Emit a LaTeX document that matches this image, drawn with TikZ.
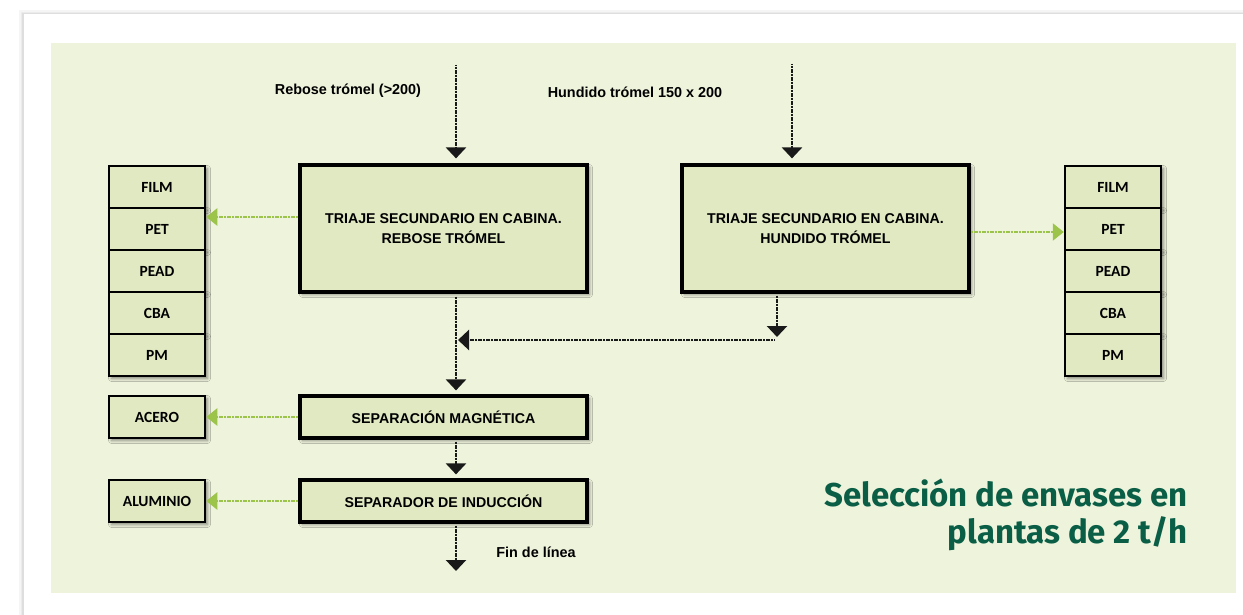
\documentclass[tikz,border=0pt]{standalone}
\usepackage{fontspec}
\usetikzlibrary{arrows.meta,shadows.blur,calc}
\newfontfamily\helvfont{Liberation Sans}
\newfontfamily\cellfont{Carlito}
\newfontfamily\titlefont{Fira Sans}
\definecolor{panel}{HTML}{EEF3DC}
\definecolor{boxfill}{HTML}{E0E9C2}
\definecolor{titlegreen}{HTML}{0A5E46}
\definecolor{sidegreen}{HTML}{9DC44A}
\tikzset{
  mainbox/.style={draw=black, line width=3.2pt, fill=boxfill, align=center,
    font=\helvfont\bfseries\fontsize{14.2}{20.5}\selectfont,
    blur shadow={shadow xshift=2.5pt, shadow yshift=-2.5pt, shadow blur radius=3pt, shadow opacity=45}},
  cellbox/.style={draw=black, line width=2.5pt, fill=boxfill,
    minimum width=96, minimum height=42, inner sep=0pt,
    font=\cellfont\bfseries\fontsize{15.5}{17}\selectfont,
    blur shadow={shadow xshift=2.5pt, shadow yshift=-2.5pt, shadow blur radius=3pt, shadow opacity=45}},
  flow/.style={draw=black!90, line width=2.4pt, dash pattern=on 1.2pt off 0.4pt,
    -{Triangle[width=20pt,length=11pt]}},
  gflow/.style={draw=sidegreen, line width=2.4pt, dash pattern=on 1.2pt off 0.4pt,
    -{Triangle[width=17pt,length=11pt]}},
  lbl/.style={font=\helvfont\bfseries\fontsize{14.4}{16}\selectfont, inner sep=0pt}
}
\begin{document}
\begin{tikzpicture}[x=1pt,y=-1pt]
\useasboundingbox (0,0) rectangle (1243,615);
\fill[white] (0,0) rectangle (1243,615);
% card edge shadow
\fill[black!4] (19,10) rectangle (1243,615);
\fill[black!8] (21,12) rectangle (1243,615);
\fill[black!13] (22,13) rectangle (1243,615);
\fill[white] (23.5,14.5) rectangle (1243,615);
% light green panel
\fill[panel] (51,43) rectangle (1236,593);

% process boxes
\node[mainbox, minimum width=287, minimum height=127] (t1) at (443.5,228.5)
  {TRIAJE SECUNDARIO EN CABINA.\\REBOSE TRÓMEL};
\node[mainbox, minimum width=287, minimum height=127] (t2) at (825.5,228.5)
  {TRIAJE SECUNDARIO EN CABINA.\\HUNDIDO TRÓMEL};
\node[mainbox, minimum width=287, minimum height=42] (sm) at (443.5,417) {SEPARACIÓN MAGNÉTICA};
\node[mainbox, minimum width=287, minimum height=42] (si) at (443.5,501) {SEPARADOR DE INDUCCIÓN};

% output stacks
\node[cellbox] (L1) at (157,187) {FILM};
\node[cellbox] (L2) at (157,229) {PET};
\node[cellbox] (L3) at (157,271) {PEAD};
\node[cellbox] (L4) at (157,313) {CBA};
\node[cellbox] (L5) at (157,355) {PM};
\node[cellbox] (R1) at (1113,187) {FILM};
\node[cellbox] (R2) at (1113,229) {PET};
\node[cellbox] (R3) at (1113,271) {PEAD};
\node[cellbox] (R4) at (1113,313) {CBA};
\node[cellbox] (R5) at (1113,355) {PM};
\node[cellbox] (ac) at (157,417) {ACERO};
\node[cellbox] (al) at (157,501) {ALUMINIO};

% labels
\node[lbl] (lreb) at (348,91) {Rebose trómel (>200)};
\node[lbl] (lhun) at (635,92) {Hundido trómel 150 x 200};
\node[lbl] (lfin) at (536,552) {Fin de línea};
\node[font=\titlefont\bfseries\fontsize{33}{37}\selectfont, text=titlegreen,
  align=right, anchor=east, inner sep=0pt] (title) at (1188,515)
  {Selección de envases en\\plantas de 2 t/h};

% main flow
\coordinate (in1) at (456,65);
\coordinate (in2) at (792,64);
\coordinate (joinR) at (777,340);
\coordinate (joinL) at (458,340);
\coordinate (out) at (456,571);
\draw[flow, shorten >=5pt] (in1) -- (in1 |- t1.north);
\draw[flow, shorten >=5pt] (in2) -- (in2 |- t2.north);
\draw[flow, shorten <=3pt, shorten >=4pt] (in1 |- t1.south) -- (in1 |- sm.north);
\draw[flow, shorten <=2pt, shorten >=3pt] (joinR |- t2.south) -- (joinR);
\draw[flow, shorten <=2pt] (joinR) -- (joinL);
\draw[flow, shorten <=2pt, shorten >=4pt] (in1 |- sm.south) -- (in1 |- si.north);
\draw[flow, shorten <=2pt] (in1 |- si.south) -- (out);

% side outputs
\path ($(t1.west)+(0,-11.5)$) coordinate (g1);
\path ($(t2.east)+(0,3.5)$) coordinate (g2);
\draw[gflow] (g1) -- (g1 -| L2.east);
\draw[gflow] (g2) -- (g2 -| R2.west);
\draw[gflow] (sm.west) -- (ac.east);
\draw[gflow] (si.west) -- (al.east);
\end{tikzpicture}
\end{document}
